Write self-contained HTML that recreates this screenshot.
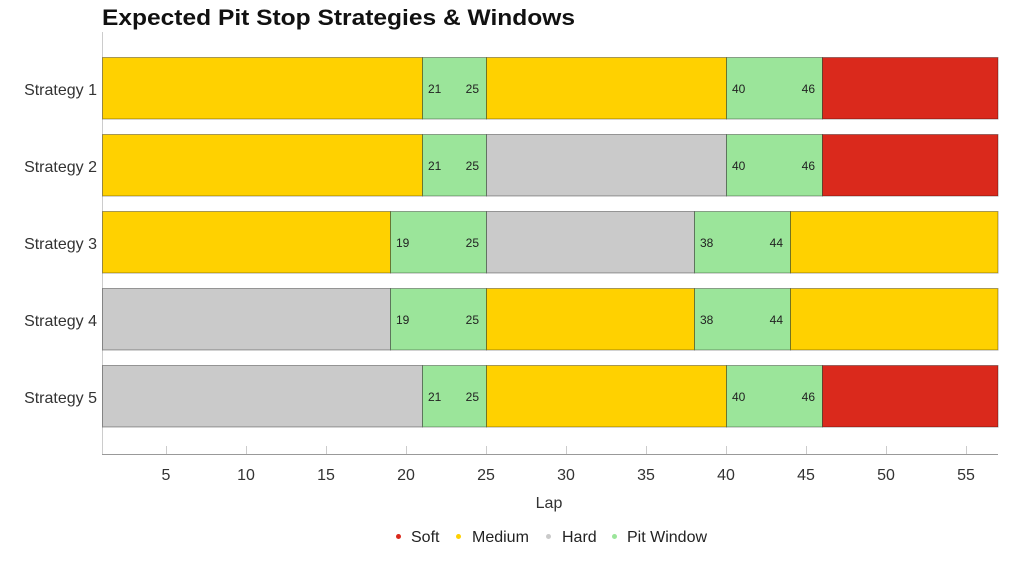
<!DOCTYPE html>
<html><head><meta charset="utf-8"><style>
html,body{margin:0;padding:0;background:#fff;}
svg{display:block;}
text{font-family:"Liberation Sans",sans-serif;}
</style></head><body>
<svg width="1024" height="576" viewBox="0 0 1024 576" xmlns="http://www.w3.org/2000/svg">
<text x="102" y="25" font-size="22" font-weight="900" fill="#111" textLength="473" lengthAdjust="spacingAndGlyphs">Expected Pit Stop Strategies &amp; Windows</text>
<line x1="102.5" y1="32" x2="102.5" y2="455" stroke="#ccc" stroke-width="1"/>
<g stroke="rgba(0,0,0,0.35)" stroke-width="1">
<!-- S1 -->
<rect x="102.5" y="57.5" width="320" height="61.5" fill="#FFD100"/>
<rect x="422.5" y="57.5" width="64" height="61.5" fill="#9BE59A"/>
<rect x="486.5" y="57.5" width="240" height="61.5" fill="#FFD100"/>
<rect x="726.5" y="57.5" width="96" height="61.5" fill="#9BE59A"/>
<rect x="822.5" y="57.5" width="175.5" height="61.5" fill="#DA291C"/>
<!-- S2 -->
<rect x="102.5" y="134.5" width="320" height="61.5" fill="#FFD100"/>
<rect x="422.5" y="134.5" width="64" height="61.5" fill="#9BE59A"/>
<rect x="486.5" y="134.5" width="240" height="61.5" fill="#CACACA"/>
<rect x="726.5" y="134.5" width="96" height="61.5" fill="#9BE59A"/>
<rect x="822.5" y="134.5" width="175.5" height="61.5" fill="#DA291C"/>
<!-- S3 -->
<rect x="102.5" y="211.5" width="288" height="61.5" fill="#FFD100"/>
<rect x="390.5" y="211.5" width="96" height="61.5" fill="#9BE59A"/>
<rect x="486.5" y="211.5" width="208" height="61.5" fill="#CACACA"/>
<rect x="694.5" y="211.5" width="96" height="61.5" fill="#9BE59A"/>
<rect x="790.5" y="211.5" width="207.5" height="61.5" fill="#FFD100"/>
<!-- S4 -->
<rect x="102.5" y="288.5" width="288" height="61.5" fill="#CACACA"/>
<rect x="390.5" y="288.5" width="96" height="61.5" fill="#9BE59A"/>
<rect x="486.5" y="288.5" width="208" height="61.5" fill="#FFD100"/>
<rect x="694.5" y="288.5" width="96" height="61.5" fill="#9BE59A"/>
<rect x="790.5" y="288.5" width="207.5" height="61.5" fill="#FFD100"/>
<!-- S5 -->
<rect x="102.5" y="365.5" width="320" height="61.5" fill="#CACACA"/>
<rect x="422.5" y="365.5" width="64" height="61.5" fill="#9BE59A"/>
<rect x="486.5" y="365.5" width="240" height="61.5" fill="#FFD100"/>
<rect x="726.5" y="365.5" width="96" height="61.5" fill="#9BE59A"/>
<rect x="822.5" y="365.5" width="175.5" height="61.5" fill="#DA291C"/>
</g>
<g font-size="12" fill="#222">
<text x="428" y="93">21</text><text x="479" y="93" text-anchor="end">25</text>
<text x="732" y="93">40</text><text x="815" y="93" text-anchor="end">46</text>
<text x="428" y="170">21</text><text x="479" y="170" text-anchor="end">25</text>
<text x="732" y="170">40</text><text x="815" y="170" text-anchor="end">46</text>
<text x="396" y="247">19</text><text x="479" y="247" text-anchor="end">25</text>
<text x="700" y="247">38</text><text x="783" y="247" text-anchor="end">44</text>
<text x="396" y="324">19</text><text x="479" y="324" text-anchor="end">25</text>
<text x="700" y="324">38</text><text x="783" y="324" text-anchor="end">44</text>
<text x="428" y="401">21</text><text x="479" y="401" text-anchor="end">25</text>
<text x="732" y="401">40</text><text x="815" y="401" text-anchor="end">46</text>
</g>
<g font-size="16" fill="#333" text-anchor="end">
<text x="97" y="95">Strategy 1</text>
<text x="97" y="172">Strategy 2</text>
<text x="97" y="249">Strategy 3</text>
<text x="97" y="326">Strategy 4</text>
<text x="97" y="403">Strategy 5</text>
</g>
<line x1="102" y1="454.5" x2="998" y2="454.5" stroke="#999" stroke-width="1"/>
<g stroke="#ccc" stroke-width="1">
<line x1="166.5" y1="446" x2="166.5" y2="454"/>
<line x1="246.5" y1="446" x2="246.5" y2="454"/>
<line x1="326.5" y1="446" x2="326.5" y2="454"/>
<line x1="406.5" y1="446" x2="406.5" y2="454"/>
<line x1="486.5" y1="446" x2="486.5" y2="454"/>
<line x1="566.5" y1="446" x2="566.5" y2="454"/>
<line x1="646.5" y1="446" x2="646.5" y2="454"/>
<line x1="726.5" y1="446" x2="726.5" y2="454"/>
<line x1="806.5" y1="446" x2="806.5" y2="454"/>
<line x1="886.5" y1="446" x2="886.5" y2="454"/>
<line x1="966.5" y1="446" x2="966.5" y2="454"/>
</g>
<g font-size="16" fill="#333" text-anchor="middle">
<text x="166" y="480">5</text>
<text x="246" y="480">10</text>
<text x="326" y="480">15</text>
<text x="406" y="480">20</text>
<text x="486" y="480">25</text>
<text x="566" y="480">30</text>
<text x="646" y="480">35</text>
<text x="726" y="480">40</text>
<text x="806" y="480">45</text>
<text x="886" y="480">50</text>
<text x="966" y="480">55</text>
<text x="549" y="508">Lap</text>
</g>
<circle cx="398.5" cy="536.5" r="2.5" fill="#DA291C"/>
<circle cx="458.5" cy="536.5" r="2.5" fill="#FFD100"/>
<circle cx="548.5" cy="536.5" r="2.5" fill="#CACACA"/>
<circle cx="614.5" cy="536.5" r="2.5" fill="#9BE59A"/>
<g font-size="16" fill="#222">
<text x="411" y="542">Soft</text>
<text x="472" y="542">Medium</text>
<text x="562" y="542">Hard</text>
<text x="627" y="542">Pit Window</text>
</g>
</svg>
</body></html>
